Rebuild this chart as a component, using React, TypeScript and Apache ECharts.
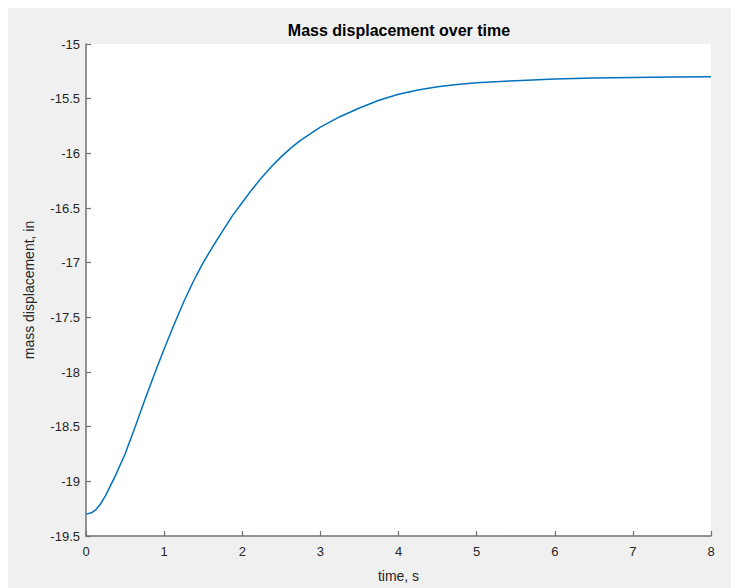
import React, { useEffect, useRef } from "react";
import * as echarts from "echarts";

const titleText = "Mass displacement over time";
const xAxisName = "time, s";
const yAxisName = "mass displacement, in";

const timeValues = [
  0, 0.0625, 0.125, 0.1875, 0.25, 0.375, 0.5, 0.625, 0.75, 0.875, 1.0, 1.125, 1.25, 1.375, 1.5, 1.625, 1.75, 1.875,
  2.0, 2.125, 2.25, 2.375, 2.5, 2.625, 2.75, 2.875, 3.0, 3.25, 3.5, 3.75, 4.0, 4.25, 4.5, 4.75,
  5.0, 5.5, 6.0, 6.5, 7.0, 7.5, 8.0,
];
const displacementValues = [
  -19.3, -19.29, -19.26, -19.205, -19.13, -18.95, -18.75, -18.51, -18.26, -18.02, -17.79, -17.57, -17.36, -17.17, -17.0, -16.85, -16.71, -16.57,
  -16.45, -16.33, -16.22, -16.12, -16.03, -15.95, -15.88, -15.82, -15.76, -15.665, -15.585, -15.515, -15.46, -15.42, -15.39, -15.37,
  -15.355, -15.335, -15.32, -15.312, -15.306, -15.302, -15.3,
];

export default function App() {
  const ref = useRef<HTMLDivElement>(null);
  useEffect(() => {
    if (!ref.current) return;
    const chart = echarts.init(ref.current, null, { renderer: "svg" });
    const font = "Helvetica, Arial, 'Liberation Sans', sans-serif";
    chart.setOption({
      animation: false,
      backgroundColor: "#f0f0f0",
      graphic: [
        {
          type: "text",
          x: 391,
          y: 22,
          style: {
            text: titleText,
            textAlign: "center",
            textVerticalAlign: "middle",
            fontSize: 16,
            fontWeight: "bold",
            fill: "#000",
            fontFamily: font,
          },
        },
      ],
      grid: {
        show: true,
        left: 78,
        top: 36,
        right: 28,
        bottom: 52,
        backgroundColor: "#ffffff",
        borderWidth: 0,
      },
      xAxis: {
        type: "value",
        min: 0,
        max: 8,
        interval: 1,
        name: xAxisName,
        nameLocation: "middle",
        nameGap: 33,
        nameTextStyle: { fontSize: 14, color: "#262626", fontFamily: font },
        axisLine: { show: true, onZero: false, lineStyle: { color: "#707070", width: 1.5 } },
        axisTick: { show: true, inside: true, length: 5, lineStyle: { color: "#707070", width: 1.2 } },
        axisLabel: { fontSize: 13, color: "#262626", margin: 9, fontFamily: font },
        splitLine: { show: false },
      },
      yAxis: {
        type: "value",
        min: -19.5,
        max: -15,
        interval: 0.5,
        name: yAxisName,
        nameLocation: "middle",
        nameGap: 50,
        nameTextStyle: { fontSize: 14, color: "#262626", fontFamily: font },
        axisLine: { show: true, onZero: false, lineStyle: { color: "#707070", width: 1.5 } },
        axisTick: { show: true, inside: true, length: 5, lineStyle: { color: "#707070", width: 1.2 } },
        axisLabel: { fontSize: 13, color: "#262626", margin: 6, fontFamily: font },
        splitLine: { show: false },
      },
      series: [
        {
          type: "line",
          data: timeValues.map((t, i) => [t, displacementValues[i]]),
          showSymbol: false,
          smooth: false,
          lineStyle: { color: "#0072BD", width: 1.5, join: "round" },
          itemStyle: { color: "#0072BD" },
        },
      ],
    });
    return () => chart.dispose();
  }, []);
  return <div ref={ref} style={{ width: 731, height: 580 }} />;
}
